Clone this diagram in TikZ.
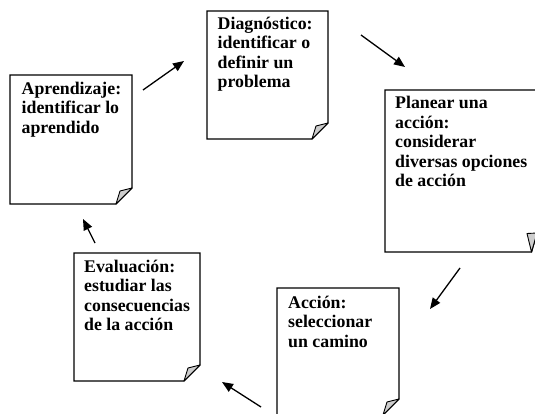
\documentclass[tikz,border=0pt]{standalone}
\usepackage{fontspec}
\setmainfont{Liberation Serif}
\usetikzlibrary{arrows.meta}
\definecolor{foldgray}{RGB}{205,205,205}
\tikzset{
  boxline/.style={draw=black, line width=1.3pt, fill=white, line join=miter},
  foldpart/.style={draw=black, line width=0.9pt, fill=foldgray, line join=round},
  txt/.style={anchor=north west, inner sep=0pt, align=left,
    font=\bfseries\fontsize{17.8}{19.5}\selectfont},
  flow/.style={line width=1.3pt, -{Triangle[length=11pt,width=9pt]}},
}
% l t r b : page with folded bottom-right corner (fold 16)
\newcommand\foldpage[4]{%
  \draw[boxline] (#1,#2) -- (#3,#2) -- (#3,#4-16) -- (#3-16,#4) -- (#1,#4) -- cycle;
  \draw[foldpart] (#3,#4-16) -- (#3-12,#4-13) -- (#3-16,#4) -- cycle;
}
\begin{document}
\begin{tikzpicture}[x=1pt,y=-1pt]
\useasboundingbox (0,0) rectangle (535,414);
\clip (0,0) rectangle (535,414);

% pages
\foldpage{207}{11}{328}{139}
\foldpage{10}{75}{132}{204}
\foldpage{74}{253}{200}{381}
\foldpage{277}{288}{399}{415}
% Planear page (cropped at the right)
\draw[boxline] (385,90) -- (537,90) -- (537,233) -- (531.5,252) -- (385,252) -- cycle;
\draw[foldpart] (537,233) -- (527,233.5) -- (531.5,252) -- cycle;

% texts
\node[txt] (diag) at (217.5,29-14) {\rule{0pt}{14pt}Diagnóstico:\\identificar o\\definir un\\problema};
\node[txt] (plan) at (395,108.5-14) {\rule{0pt}{14pt}Planear una\\acción:\\considerar\\diversas opciones\\de acción};
\node[txt] (apre) at (21.5,94-14) {\rule{0pt}{14pt}Aprendizaje:\\identificar lo\\aprendido};
\node[txt] (eval) at (84,272-14) {\rule{0pt}{14pt}Evaluación:\\estudiar las\\consecuencias\\de la acción};
\node[txt] (acci) at (288,308-14) {\rule{0pt}{14pt}Acción:\\seleccionar\\un camino};

% arrow end points
\coordinate (a1) at (143,90);  \coordinate (b1) at (184,61);
\coordinate (a2) at (361,35);  \coordinate (b2) at (405,67);
\coordinate (a3) at (460,268); \coordinate (b3) at (430,309);
\coordinate (a4) at (261,407); \coordinate (b4) at (222,382);
\coordinate (a5) at (95,243);  \coordinate (b5) at (83,219);

\draw[flow] (a1) -- (b1);
\draw[flow] (a2) -- (b2);
\draw[flow] (a3) -- (b3);
\draw[flow] (a4) -- (b4);
\draw[flow] (a5) -- (b5);
\end{tikzpicture}
\end{document}
